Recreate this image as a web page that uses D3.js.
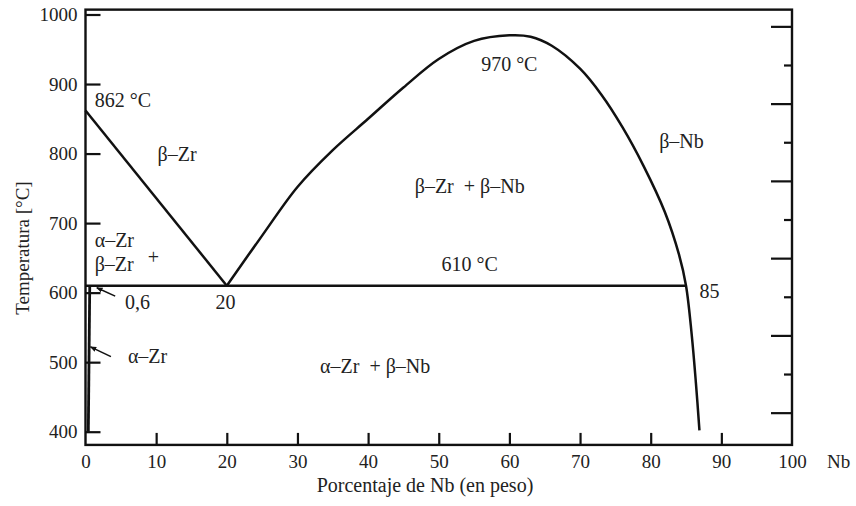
<!DOCTYPE html>
<html>
<head>
<meta charset="utf-8">
<script src="https://cdn.jsdelivr.net/npm/d3@7"></script>
<style>
  body { margin: 0; background: #fff; }
  svg text { font-family: "Liberation Serif", "DejaVu Serif", serif; fill: #222; }
  .axis path { display: none; }
  .axis line { stroke: #111; stroke-width: 2.2; }
  .axis text { font-size: 19px; font-family: "Liberation Serif", serif; fill: #222; }
</style>
</head>
<body>
<div class="chart"></div>
<script>
// tick values
const xTicks = [0, 10, 20, 30, 40, 50, 60, 70, 80, 90, 100];
const yTicks = [400, 500, 600, 700, 800, 900, 1000];
const fTicks = [800, 900, 1000, 1100, 1200, 1300, 1400, 1500, 1600, 1700, 1800]; // right axis, deg F

// phase boundaries  [wt% Nb, temperature C]
const betaTransus = [[0, 862], [20, 610]];
const domeCurve = [[20, 610], [25, 682], [30, 752], [35, 805], [40, 850], [45, 895], [50, 936],
  [55, 962], [60, 970], [63, 968], [66, 955], [70, 922], [73, 885], [76, 838], [79, 782],
  [82, 716], [84, 655], [85, 610], [85.8, 540], [86.4, 470], [86.9, 402]];
const monotectoid = [[0, 610], [85, 610]];
const alphaSolvus = [[0.6, 610], [0.4, 400]];

// region labels
const labels = [
  {t: "862 °C", x: 1.3, y: 867},
  {t: "β–Zr", x: 10.2, y: 789},
  {t: "α–Zr", x: 1.3, y: 665},
  {t: "β–Zr", x: 1.3, y: 631},
  {t: "+", x: 8.8, y: 641},
  {t: "0,6", x: 5.6, y: 576},
  {t: "20", x: 18.4, y: 576},
  {t: "α–Zr", x: 6, y: 499},
  {t: "β–Zr  + β–Nb", x: 46.6, y: 743},
  {t: "610 °C", x: 50.4, y: 631},
  {t: "970 °C", x: 56, y: 919},
  {t: "β–Nb", x: 81.2, y: 808},
  {t: "85", x: 86.9, y: 593},
  {t: "α–Zr  + β–Nb", x: 33.2, y: 485}
];

// arrows [from, to]
const arrows = [
  [[4.2, 595], [1.6, 607]],
  [[3.6, 508], [0.7, 522]]
];

const W = 856, H = 506;
const svg = d3.select('.chart').append('svg')
  .attr('width', W).attr('height', H);

const x = d3.scaleLinear().domain([0, 100]).range([85.5, 792]);
const y = d3.scaleLinear().domain([400, 1000]).range([431.7, 14.5]);
const fToC = f => (f - 32) * 5 / 9;

svg.append('defs').append('marker')
  .attr('id', 'head').attr('viewBox', '0 0 10 10')
  .attr('refX', 9).attr('refY', 5)
  .attr('markerWidth', 4).attr('markerHeight', 4)
  .attr('orient', 'auto')
  .append('path').attr('d', 'M0,1 L10,5 L0,9 Z').attr('fill', '#111');

// frame
svg.append('rect')
  .attr('x', x(0)).attr('y', y(1007))
  .attr('width', x(100) - x(0)).attr('height', y(381) - y(1007))
  .attr('fill', 'none').attr('stroke', '#111').attr('stroke-width', 2.4);

// bottom axis
const xAxis = svg.append('g').attr('class', 'axis')
  .attr('transform', 'translate(0,' + y(381) + ')')
  .call(d3.axisBottom(x).tickValues(xTicks).tickFormat(d3.format('d'))
    .tickSizeInner(-12).tickSizeOuter(0).tickPadding(10));
xAxis.selectAll('.tick').filter(d => d === 0 || d === 100).select('line').remove();

// left axis
svg.append('g').attr('class', 'axis')
  .attr('transform', 'translate(' + x(0) + ',0)')
  .call(d3.axisLeft(y).tickValues(yTicks).tickFormat(d3.format('d'))
    .tickSizeInner(-15).tickSizeOuter(0).tickPadding(8));

// right axis ticks in deg F
svg.append('g').selectAll('line')
  .data(fTicks).enter().append('line')
  .attr('x1', x(100))
  .attr('x2', d => x(100) - (d % 200 === 0 ? 21 : 8))
  .attr('y1', d => y(fToC(d))).attr('y2', d => y(fToC(d)))
  .attr('stroke', '#111').attr('stroke-width', 2.2);

// "Nb" end label
svg.append('text').attr('x', 827).attr('y', 468).style('font-size', '19px').text('Nb');

// axis titles
svg.append('text').attr('x', 425).attr('y', 492).attr('text-anchor', 'middle')
  .style('font-size', '20px').text('Porcentaje de Nb (en peso)');
svg.append('text').attr('transform', 'translate(29,248) rotate(-90)')
  .attr('text-anchor', 'middle').style('font-size', '19px').text('Temperatura [°C]');

// phase boundaries
const line = d3.line().x(d => x(d[0])).y(d => y(d[1]));
const curve = d3.line().x(d => x(d[0])).y(d => y(d[1])).curve(d3.curveCatmullRom.alpha(0.5));

svg.append('path').datum(betaTransus).attr('d', line)
  .attr('fill', 'none').attr('stroke', '#111').attr('stroke-width', 2.5);
svg.append('path').datum(domeCurve).attr('d', curve)
  .attr('fill', 'none').attr('stroke', '#111').attr('stroke-width', 2.5);
svg.append('path').datum(monotectoid).attr('d', line)
  .attr('fill', 'none').attr('stroke', '#111').attr('stroke-width', 2.5);
svg.append('path').datum(alphaSolvus).attr('d', line)
  .attr('fill', 'none').attr('stroke', '#111').attr('stroke-width', 2.8);

svg.selectAll('.arrow').data(arrows).enter().append('path')
  .attr('class', 'arrow').attr('d', line)
  .attr('stroke', '#111').attr('stroke-width', 1.6).attr('marker-end', 'url(#head)');

svg.selectAll('.lbl').data(labels).enter().append('text')
  .attr('class', 'lbl')
  .attr('x', d => x(d.x)).attr('y', d => y(d.y))
  .style('font-size', '20px')
  .style('white-space', 'pre')
  .attr('xml:space', 'preserve')
  .text(d => d.t);
</script>
</body>
</html>
